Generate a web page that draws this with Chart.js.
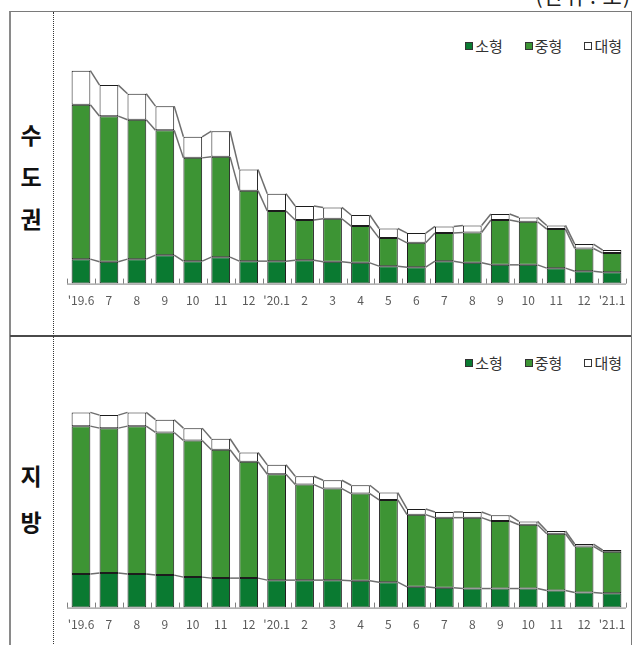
<!DOCTYPE html>
<html>
<head>
<meta charset="utf-8">
<script src="https://cdn.jsdelivr.net/npm/chart.js@4.4.1/dist/chart.umd.min.js"></script>
<style>
  html, body { margin: 0; padding: 0; }
  body { width: 640px; height: 645px; background: #fff; position: relative; overflow: hidden;
         font-family: "Noto Sans CJK KR", "Noto Sans", sans-serif; }
  .unit { position: absolute; right: 9px; top: -20px; font-size: 21px; color: #222; letter-spacing: 1px; }
  .frame { position: absolute; left: 9px; top: 11px; width: 620px; height: 650px;
           border-left: 2px solid #8a8a8a; border-top: 1px solid #7a7a7a; border-right: 1px solid #7a7a7a; }
  .divider { position: absolute; left: 10px; top: 335px; width: 621px; border-top: 2px solid #4a4a4a; }
  .dots { position: absolute; left: 53px; top: 12px; height: 640px; border-left: 1px dotted #333; }
  .region { position: absolute; left: 11px; width: 40px; text-align: center; font-weight: bold;
            font-size: 23px; color: #111; }
  .region span { position: absolute; left: 0; width: 40px; }
  .legend { position: absolute; right: 18px; font-size: 15px; color: #333; white-space: nowrap; }
  .legend .item { display: inline-block; margin-left: 22px; }
  .legend .box { display: inline-block; width: 6px; height: 6px; border: 1px solid #333;
                 margin-right: 2px; vertical-align: 2px; }
  .panel { position: absolute; left: 54px; width: 576px; }
</style>
</head>
<body>
<div class="unit">(단위 : 호)</div>
<div class="frame"></div>
<div class="divider"></div>
<div class="dots"></div>

<div class="region" style="top:0"><span style="top:117px">수</span><span style="top:159px">도</span><span style="top:201px">권</span></div>
<div class="region" style="top:0"><span style="top:458px">지</span><span style="top:504px">방</span></div>

<div class="legend" id="legendTop" style="top:35px"></div>
<div class="legend" id="legendBottom" style="top:352px"></div>

<div class="panel" style="top:12px;height:323px"><canvas id="capital"></canvas></div>
<div class="panel" style="top:337px;height:308px"><canvas id="provinces"></canvas></div>

<script>
// Month labels, June 2019 through January 2021
const months = ["'19.6", "7", "8", "9", "10", "11", "12", "'20.1", "2", "3", "4", "5",
                "6", "7", "8", "9", "10", "11", "12", "'21.1"];

const seriesNames = ["소형", "중형", "대형"];

// 수도권 (capital area)
const capitalSmall  = [24.4, 21.7, 24.4, 28.4, 22.4, 26.4, 22.4, 22.4, 23.4, 21.7, 20.7, 17.4, 16.4, 22.4, 20.7, 18.7, 18.7, 15.4, 12.4, 11.4];
const capitalMedium = [154.0, 145.3, 139.0, 124.6, 103.0, 100.0, 70.3, 50.0, 40.0, 43.0, 36.7, 28.0, 24.3, 28.0, 30.3, 44.7, 43.0, 39.0, 22.6, 19.0];
const capitalLarge  = [34.0, 31.0, 26.0, 24.0, 21.0, 25.6, 21.0, 17.3, 14.0, 11.3, 11.0, 9.6, 9.7, 6.6, 7.0, 6.0, 4.3, 3.6, 4.4, 3.0];

// 지방 (provinces)
const provSmall  = [33.4, 34.4, 33.4, 32.4, 30.4, 29.4, 29.4, 27.4, 27.4, 27.4, 26.7, 25.4, 20.7, 19.7, 19.0, 19.0, 19.0, 17.0, 15.0, 14.4];
const provMedium = [147.6, 144.6, 147.6, 142.3, 136.3, 128.0, 116.0, 105.6, 95.3, 91.3, 87.0, 82.0, 72.0, 70.0, 70.7, 67.4, 63.7, 56.7, 46.0, 41.3];
const provLarge  = [13.7, 13.0, 13.7, 12.7, 12.3, 11.0, 9.3, 9.4, 8.3, 8.3, 8.3, 7.3, 5.7, 5.7, 5.7, 5.6, 3.3, 2.7, 2.4, 1.7];

const fills = ["#0a7a31", "#3d9434", "#ffffff"];
const edge = "#1c1c1c";

// HTML legends
function buildLegend(id) {
  const el = document.getElementById(id);
  seriesNames.forEach((name, i) => {
    const item = document.createElement("span");
    item.className = "item";
    item.innerHTML = '<span class="box" style="background:' + fills[i] + '"></span>' + name;
    el.appendChild(item);
  });
}
buildLegend("legendTop");
buildLegend("legendBottom");

// Lines joining the top of each stacked segment between neighbouring bars
const seriesLines = {
  id: "seriesLines",
  afterDatasetsDraw(chart) {
    const ctx = chart.ctx;
    ctx.save();
    ctx.strokeStyle = "#6e6e6e";
    ctx.lineWidth = 1.5;
    chart.data.datasets.forEach((ds, d) => {
      const bars = chart.getDatasetMeta(d).data;
      for (let i = 0; i < bars.length - 1; i++) {
        const a = bars[i], b = bars[i + 1];
        ctx.beginPath();
        ctx.moveTo(a.x + a.width / 2, a.y);
        ctx.lineTo(b.x - b.width / 2, b.y);
        ctx.stroke();
      }
    });
    ctx.restore();
  }
};

// Short upward tick marks on category boundaries, plus the axis line
const boundaryTicks = {
  id: "boundaryTicks",
  afterDraw(chart) {
    const x = chart.scales.x, ctx = chart.ctx;
    const y0 = chart.chartArea.bottom;
    const n = chart.data.labels.length;
    ctx.save();
    ctx.strokeStyle = "#7f7f7f";
    ctx.lineWidth = 1;
    for (let i = 0; i <= n; i++) {
      const px = Math.round(x.getPixelForValue(i - 0.5)) + 0.5;
      ctx.beginPath();
      ctx.moveTo(px, y0);
      ctx.lineTo(px, y0 - 5);
      ctx.stroke();
    }
    ctx.beginPath();
    ctx.moveTo(chart.chartArea.left, y0 + 0.5);
    ctx.lineTo(chart.chartArea.right, y0 + 0.5);
    ctx.stroke();
    ctx.restore();
  }
};

function makeChart(id, small, medium, large, padTop, padBottom) {
  const data = [small, medium, large];
  new Chart(document.getElementById(id), {
    type: "bar",
    data: {
      labels: months,
      datasets: data.map((values, i) => ({
        label: seriesNames[i],
        data: values,
        backgroundColor: fills[i],
        borderColor: edge,
        borderWidth: 1,
        borderSkipped: false,
        barPercentage: 0.67,
        categoryPercentage: 1.0
      }))
    },
    options: {
      responsive: true,
      maintainAspectRatio: false,
      animation: false,
      layout: { padding: { left: 13, right: 4, top: padTop, bottom: padBottom } },
      plugins: { legend: { display: false }, tooltip: { enabled: false } },
      scales: {
        x: {
          stacked: true,
          border: { display: false },
          grid: { display: false },
          ticks: {
            autoSkip: false, maxRotation: 0, padding: 2,
            color: "#5a5a5a",
            font: { family: "'Noto Sans CJK KR', 'Noto Sans', sans-serif", size: 12 }
          }
        },
        y: { stacked: true, display: false, min: 0, max: 230 }
      }
    },
    plugins: [seriesLines, boundaryTicks]
  });
}

makeChart("capital", capitalSmall, capitalMedium, capitalLarge, 41, 25);
makeChart("provinces", provSmall, provMedium, provLarge, 40, 11);
</script>
</body>
</html>
